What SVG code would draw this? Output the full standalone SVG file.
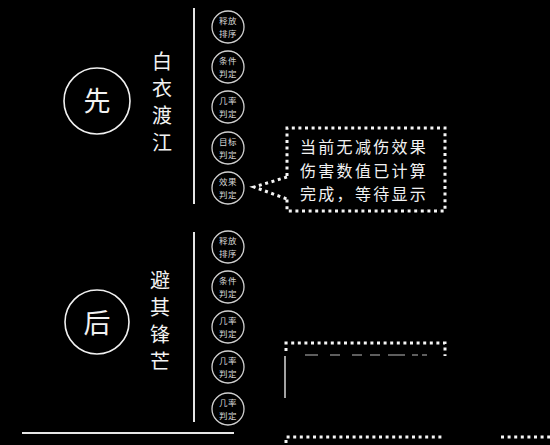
<svg xmlns="http://www.w3.org/2000/svg" width="550" height="445" viewBox="0 0 550 445">
<style>
.t{font-family:"Noto Sans CJK SC","Liberation Sans",sans-serif;fill:#f2f2f2}
.big{font-size:27px;text-anchor:middle}
.v{font-size:20px;writing-mode:vertical-rl;letter-spacing:7px}
.s{font-size:8.5px;text-anchor:middle;fill:#d8d8d8;letter-spacing:0.5px}
.sc{fill:none;stroke:#d0d0d0;stroke-width:1.3}
.bc{fill:none;stroke:#f0f0f0;stroke-width:1.6}
.ln{stroke:#e6e6e6;stroke-width:2;fill:none}
.dot{stroke:#f5f5f5;stroke-width:3;stroke-dasharray:3 3.6;fill:none}
.c{font-size:16px;letter-spacing:2.3px}
</style>
<rect width="550" height="445" fill="#000"/>
<g id="connectors">
<line class="ln" x1="194" y1="8" x2="194" y2="204"/>
<line class="ln" x1="194" y1="232" x2="194" y2="422"/>
<line class="ln" x1="22" y1="433" x2="234" y2="433"/>
</g>
<g id="xian">
<circle class="bc" cx="97" cy="101" r="33"/>
<text class="t big" x="97" y="111">先</text>
</g>
<g id="hou">
<circle class="bc" cx="97" cy="322" r="32"/>
<text class="t big" x="97" y="333">后</text>
</g>
<g id="baiyidujiang">
<text class="t v" x="162" y="51">白衣渡江</text>
</g>
<g id="biqifengmang">
<text class="t v" x="160" y="270">避其锋芒</text>
</g>
<g id="top-steps">
<circle class="sc" cx="228" cy="27" r="16"/><text class="t s"><tspan x="228" y="24">释放</tspan><tspan x="228" y="36.5">排序</tspan></text>
<circle class="sc" cx="228" cy="67" r="16"/><text class="t s"><tspan x="228" y="64">条件</tspan><tspan x="228" y="76.5">判定</tspan></text>
<circle class="sc" cx="228" cy="107" r="16"/><text class="t s"><tspan x="228" y="104">几率</tspan><tspan x="228" y="116.5">判定</tspan></text>
<circle class="sc" cx="228" cy="148" r="16"/><text class="t s"><tspan x="228" y="145">目标</tspan><tspan x="228" y="157.5">判定</tspan></text>
<circle class="sc" cx="228" cy="188" r="16"/><text class="t s"><tspan x="228" y="185">效果</tspan><tspan x="228" y="197.5">判定</tspan></text>
</g>
<g id="bottom-steps">
<circle class="sc" cx="228" cy="247" r="16"/><text class="t s"><tspan x="228" y="244">释放</tspan><tspan x="228" y="256.5">排序</tspan></text>
<circle class="sc" cx="228" cy="287" r="16"/><text class="t s"><tspan x="228" y="284">条件</tspan><tspan x="228" y="296.5">判定</tspan></text>
<circle class="sc" cx="228" cy="327" r="16"/><text class="t s"><tspan x="228" y="324">几率</tspan><tspan x="228" y="336.5">判定</tspan></text>
<circle class="sc" cx="228" cy="367" r="16"/><text class="t s"><tspan x="228" y="364">几率</tspan><tspan x="228" y="376.5">判定</tspan></text>
<circle class="sc" cx="228" cy="409" r="16"/><text class="t s"><tspan x="228" y="406">几率</tspan><tspan x="228" y="418.5">判定</tspan></text>
</g>
<g id="callout">
<path class="dot" d="M287 176 L287 128 L445 128 L445 211 L287 211 L287 199"/>
<path class="dot" d="M287 177 L254 187 L287 199"/>
<text class="t c"><tspan x="300" y="153">当前无减伤效果</tspan><tspan x="300" y="176.5">伤害数值已计算</tspan><tspan x="300" y="200">完成，等待显示</tspan></text>
</g>
<g id="callout-partial">
<path class="dot" d="M286 351 L286 343 L445 343 L445 356"/>
<line x1="285" y1="356" x2="285" y2="398" stroke="#d8d8d8" stroke-width="1.5"/>
<path d="M305 355 H318 M330 355 H340 M352 355 H362 M370 355 H380 M388 355 H405 M412 355 H418 M422 355 H427" stroke="#bbbbbb" stroke-width="1.2"/>
<path class="dot" d="M286 443 L286 437 L445 437"/>
<path class="dot" d="M501 437 L550 437"/>
</g>
</svg>
